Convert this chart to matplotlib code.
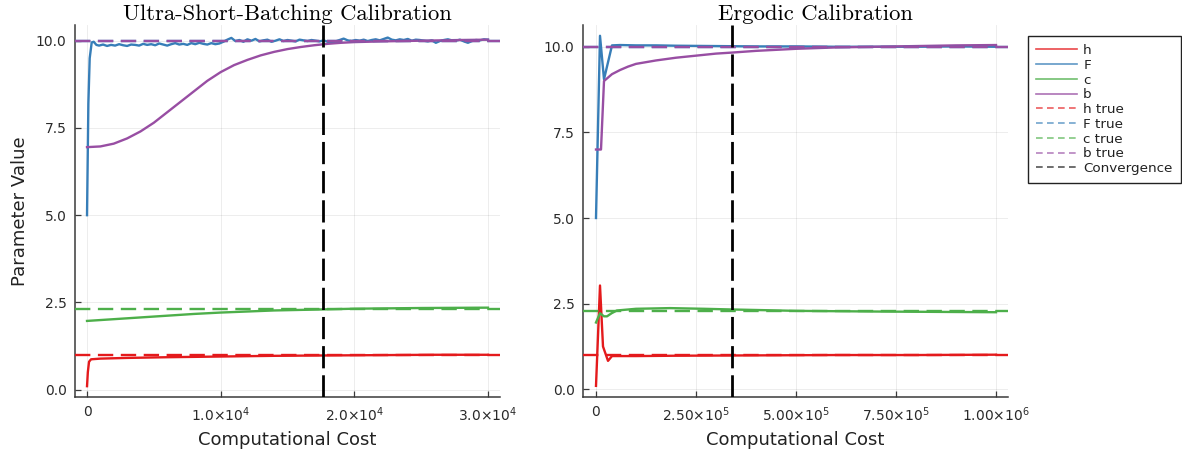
import numpy as np
import matplotlib
matplotlib.use("Agg")
import matplotlib.pyplot as plt
from matplotlib.lines import Line2D
from matplotlib.ticker import FixedLocator

# ---------------- data ----------------
true_vals = {"h": 1.0, "F": 10.0, "c": 2.3, "b": 10.0}

# Ultra-short-batching run (cost up to 3e4)
usb_conv = 17650

usb_F_head_cost = [0, 100, 200, 350, 500, 700]
usb_F_head_val = [5.0, 8.2, 9.5, 9.95, 9.97, 9.88]
# F estimates sampled every 300 units of cost starting at 900
usb_F_tail_val = [
    9.86, 9.89, 9.85, 9.88, 9.86, 9.90, 9.87, 9.85, 9.89, 9.88,
    9.86, 9.91, 9.88, 9.90, 9.87, 9.92, 9.89, 9.86, 9.90, 9.93,
    9.89, 9.91, 9.88, 9.93, 9.90, 9.94, 9.91, 9.89, 9.93, 9.90,
    9.92, 9.97, 10.03, 10.08, 9.99, 10.02, 9.97, 10.04, 10.00, 10.05,
    9.98, 10.01, 10.03, 9.97, 10.00, 10.04, 9.99, 10.02, 10.00, 9.98,
    10.03, 10.01, 9.99, 10.02, 10.00, 9.98, 10.01, 9.97, 9.95, 9.98,
    10.02, 10.06, 10.01, 9.99, 10.02, 10.00, 10.03, 9.99, 10.02, 10.04,
    10.01, 10.05, 10.09, 10.03, 10.01, 10.04, 10.02, 10.05, 10.00, 10.03,
    10.02, 10.00, 9.98, 10.01, 9.94, 9.99, 10.02, 10.04, 10.01, 10.00,
    10.03, 9.98, 9.94, 9.99, 10.02, 10.01, 10.04, 10.03,
]
usb_F_tail_start, usb_F_tail_step = 900, 300

usb_b_cost = [0, 1000, 2000, 3000, 4000, 5000, 6000, 7000, 8000, 9000, 10000,
              11000, 12000, 13000, 14000, 15000, 16000, 17000, 18000, 19000,
              20000, 22000, 25000, 28000, 30000]
usb_b_val = [6.95, 6.97, 7.05, 7.2, 7.4, 7.65, 7.95, 8.25, 8.55, 8.85, 9.1,
             9.3, 9.45, 9.58, 9.68, 9.76, 9.82, 9.87, 9.91, 9.94,
             9.96, 9.98, 10.0, 10.02, 10.03]

usb_h_cost = [0, 60, 150, 300, 1000, 3000, 6000, 10000, 14000, 17700, 22000, 26000, 30000]
usb_h_val = [0.1, 0.5, 0.8, 0.87, 0.89, 0.91, 0.93, 0.95, 0.97, 0.98, 0.99, 1.0, 1.0]

usb_c_cost = [0, 2000, 4000, 6000, 8000, 10000, 12000, 14000, 17700, 20000, 25000, 30000]
usb_c_val = [1.97, 2.02, 2.07, 2.12, 2.17, 2.21, 2.24, 2.27, 2.30, 2.32, 2.34, 2.35]

# Ergodic run (cost up to 1e6)
erg_conv = 3.4e5

erg_h_cost = [0, 1.0e4, 1.75e4, 3.0e4, 4.0e4, 6.0e4, 1.0e5, 2.0e5, 4.0e5, 6.0e5, 8.0e5, 1.0e6]
erg_h_val = [0.1, 3.03, 1.25, 0.83, 0.97, 0.97, 0.97, 0.98, 0.99, 1.0, 1.0, 1.01]

erg_F_cost = [0, 1.0e4, 2.0e4, 4.0e4, 6.0e4, 1.0e5, 1.5e5, 2.0e5, 3.0e5, 4.0e5,
              5.0e5, 6.0e5, 7.0e5, 8.0e5, 9.0e5, 1.0e6]
erg_F_val = [5.0, 10.32, 9.05, 10.04, 10.05, 10.04, 10.04, 10.03, 10.02, 10.01,
             10.01, 10.0, 10.0, 10.0, 10.01, 10.0]

erg_c_cost = [0, 1.0e4, 2.0e4, 2.75e4, 3.9e4, 5.2e4, 1.0e5, 1.85e5, 2.7e5, 3.4e5,
              5.0e5, 7.0e5, 1.0e6]
erg_c_val = [1.95, 2.22, 2.13, 2.13, 2.22, 2.30, 2.35, 2.37, 2.35, 2.33,
             2.29, 2.27, 2.25]

erg_b_cost = [0, 1.25e4, 2.0e4, 3.0e4, 4.0e4, 6.0e4, 8.0e4, 1.0e5, 1.5e5, 2.0e5,
              2.5e5, 3.0e5, 3.4e5, 4.0e5, 5.0e5, 6.0e5, 7.0e5, 8.0e5, 9.0e5, 1.0e6]
erg_b_val = [7.0, 7.0, 9.0, 9.1, 9.2, 9.32, 9.42, 9.5, 9.6, 9.68,
             9.74, 9.8, 9.83, 9.88, 9.94, 9.98, 10.0, 10.02, 10.04, 10.05]

usb_xticks = [0, 1.0e4, 2.0e4, 3.0e4]
usb_xticklabels = ["0", r"$1.0{\times}10^{4}$", r"$2.0{\times}10^{4}$", r"$3.0{\times}10^{4}$"]
erg_xticks = [0, 2.5e5, 5.0e5, 7.5e5, 1.0e6]
erg_xticklabels = ["0", r"$2.50{\times}10^{5}$", r"$5.00{\times}10^{5}$",
                   r"$7.50{\times}10^{5}$", r"$1.00{\times}10^{6}$"]
yticks = [0.0, 2.5, 5.0, 7.5, 10.0]
yticklabels = ["0.0", "2.5", "5.0", "7.5", "10.0"]

# ---------------- styling ----------------
colors = {"h": "#E41A1C", "F": "#377EB8", "c": "#4DAF4A", "b": "#984EA3"}
LW = 1.7
TRUE_DASH = (6.5, 3.2)
CONV_DASH = (8, 2.5)

W, H = 1182, 450
fig = plt.figure(figsize=(W / 100, H / 100), dpi=100)


def px_axes(x0, x1, y0, y1):
    return fig.add_axes([x0 / W, 1 - y1 / H, (x1 - x0) / W, (y1 - y0) / H])


ax1 = px_axes(75, 500, 25, 397)
ax2 = px_axes(583, 1008, 25, 397)

usb_F_cost = list(usb_F_head_cost) + [usb_F_tail_start + usb_F_tail_step * i
                                      for i in range(len(usb_F_tail_val))]
usb_F_val = list(usb_F_head_val) + list(usb_F_tail_val)

usb_series = {
    "h": (usb_h_cost, usb_h_val),
    "F": (usb_F_cost, usb_F_val),
    "c": (usb_c_cost, usb_c_val),
    "b": (usb_b_cost, usb_b_val),
}
erg_series = {
    "h": (erg_h_cost, erg_h_val),
    "F": (erg_F_cost, erg_F_val),
    "c": (erg_c_cost, erg_c_val),
    "b": (erg_b_cost, erg_b_val),
}


def draw(ax, series, conv, xlim, ylim, xticks, xticklabels):
    for k, (x, y) in series.items():
        ax.plot(x, y, color=colors[k], lw=LW, solid_joinstyle="round", zorder=3)
    for k, v in true_vals.items():
        ax.axhline(v, color=colors[k], lw=LW, dashes=TRUE_DASH, zorder=4)
    ax.axvline(conv, color="black", lw=2.0, dashes=CONV_DASH, zorder=5)
    ax.set_xlim(*xlim)
    ax.set_ylim(*ylim)
    ax.xaxis.set_major_locator(FixedLocator(xticks))
    ax.set_xticklabels(xticklabels)
    ax.yaxis.set_major_locator(FixedLocator(yticks))
    ax.set_yticklabels(yticklabels)
    ax.grid(True, color="black", alpha=0.07, lw=0.7)
    ax.set_axisbelow(True)
    for s in ("top", "right"):
        ax.spines[s].set_visible(False)
    for s in ("left", "bottom"):
        ax.spines[s].set_color("#3a3a3a")
        ax.spines[s].set_linewidth(1.1)
    ax.tick_params(direction="in", length=4.5, width=0.9, color="#3a3a3a",
                   labelsize=10, labelcolor="#2a2a2a", pad=6)
    ax.set_xlabel("Computational Cost", fontsize=13, color="#222222", labelpad=5)


draw(ax1, usb_series, usb_conv, (-900, 30900), (-0.21, 10.45), usb_xticks, usb_xticklabels)
draw(ax2, erg_series, erg_conv, (-3.25e4, 1.03e6), (-0.225, 10.635), erg_xticks, erg_xticklabels)
ax1.set_ylabel("Parameter Value", fontsize=13, color="#222222", labelpad=5)

# titles in a Computer Modern face
fig.text(287 / W, 1 - 20 / H, "Ultra-Short-Batching Calibration", family="cmr10",
         fontsize=16.3, ha="center", va="baseline")
fig.text(815 / W, 1 - 20 / H, "Ergodic Calibration", family="cmr10",
         fontsize=16.3, ha="center", va="baseline")

# legend
handles, labels = [], []
for k in ("h", "F", "c", "b"):
    handles.append(Line2D([], [], color=colors[k], lw=1.2, alpha=0.8))
    labels.append(k)
for k in ("h", "F", "c", "b"):
    handles.append(Line2D([], [], color=colors[k], lw=1.2, alpha=0.7, dashes=(4, 2.6)))
    labels.append(f"{k} true")
handles.append(Line2D([], [], color="#555555", lw=1.2, dashes=(4, 2.6)))
labels.append("Convergence")

leg = fig.legend(handles, labels, loc="upper left", bbox_to_anchor=(1028 / W, 1 - 36 / H),
                 borderaxespad=0, fontsize=9.7, handlelength=3.0, handletextpad=0.5,
                 labelspacing=0.13, borderpad=0.6, fancybox=False, framealpha=1,
                 edgecolor="#222222")
leg.get_frame().set_linewidth(1.0)
for t in leg.get_texts():
    t.set_color("#222222")

fig.savefig("out.png", dpi=100)
